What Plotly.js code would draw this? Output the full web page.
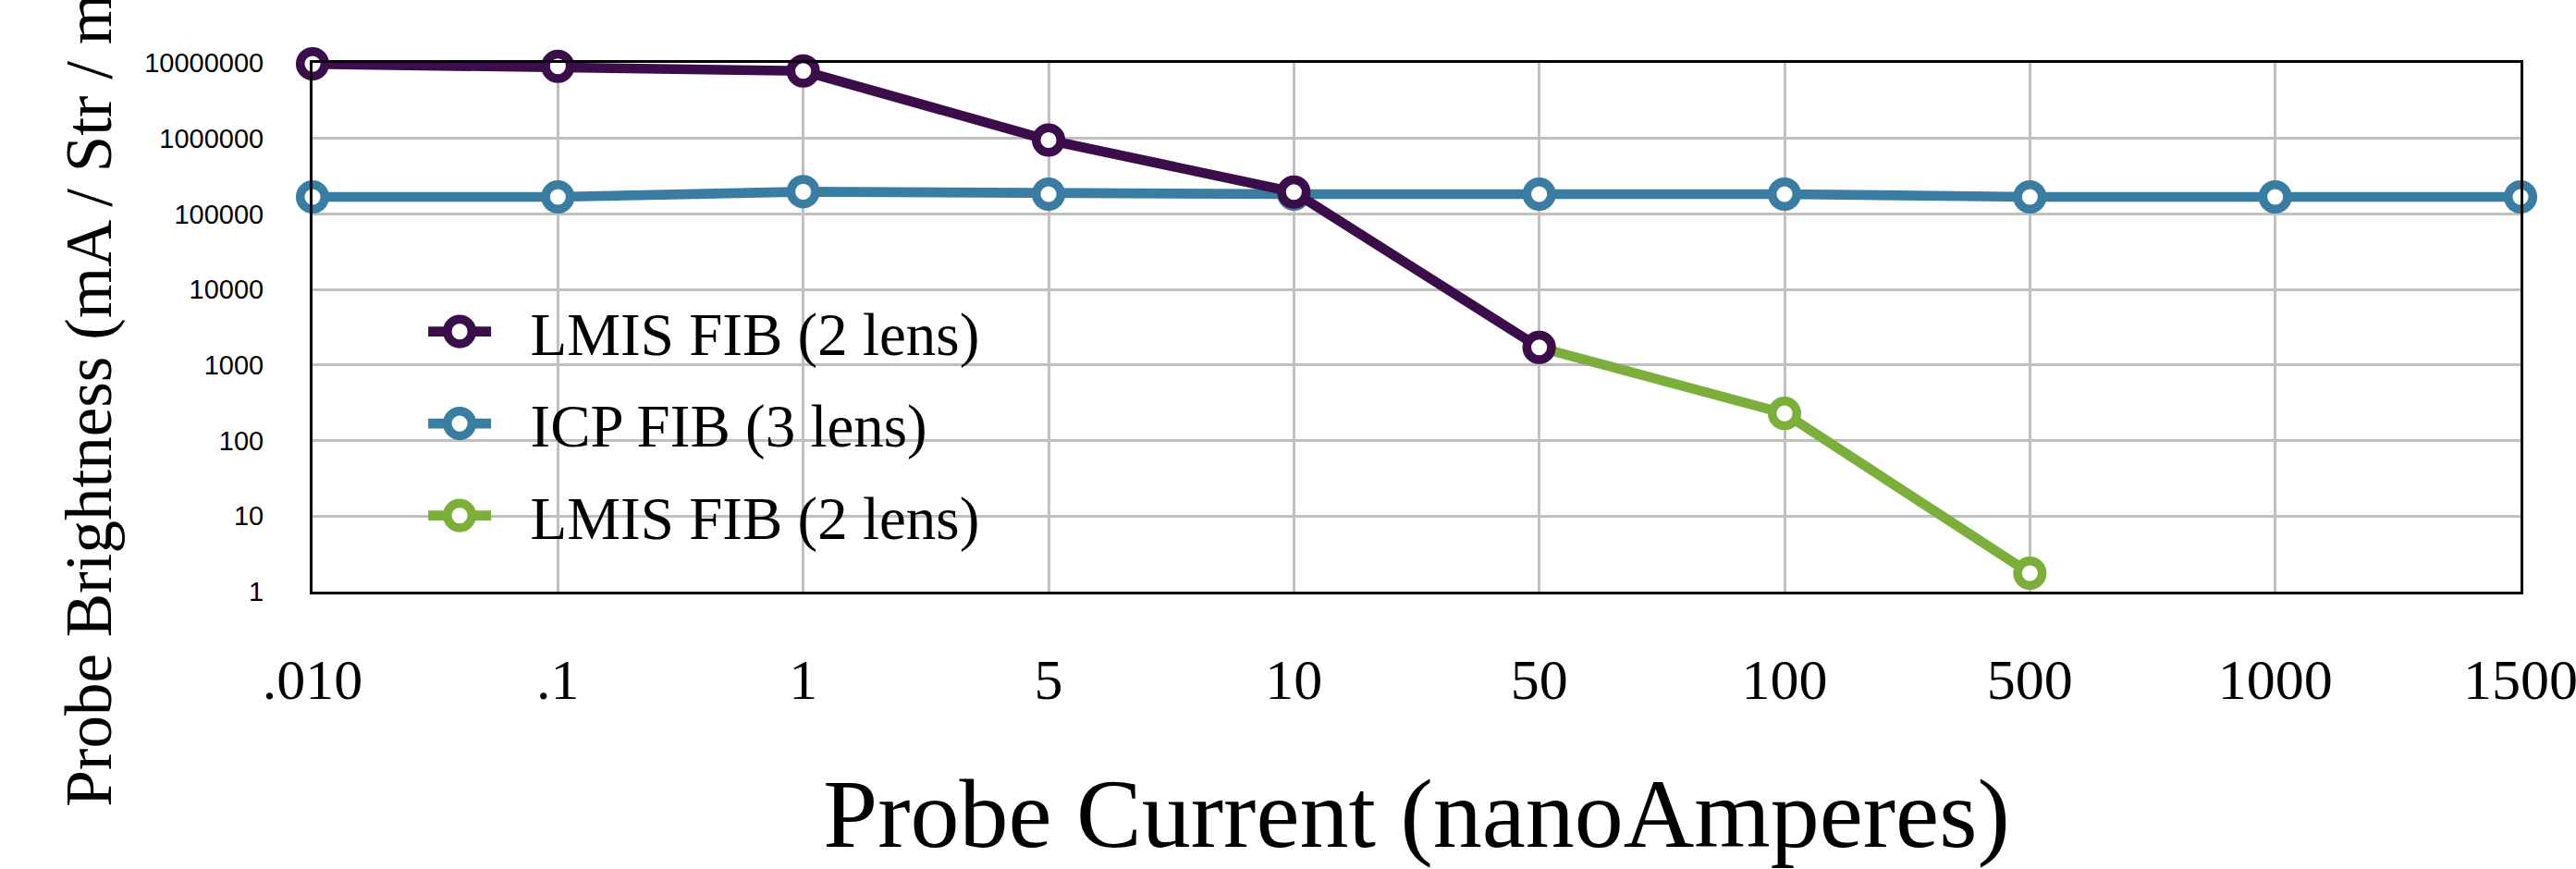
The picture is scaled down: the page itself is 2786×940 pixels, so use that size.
<!DOCTYPE html>
<html>
<head>
<meta charset="utf-8">
<script src="https://cdn.plot.ly/plotly-3.0.1.min.js"></script>
<style>
  html, body { margin: 0; padding: 0; background: #ffffff; width: 2786px; height: 940px; overflow: hidden; }
  #wrap { width: 2786px; height: 940px; position: relative; overflow: hidden; }
  #plot { width: 1393px; height: 470px; transform: scale(2); transform-origin: 0 0; position: absolute; left: 0; top: 0; }
</style>
</head>
<body>
<div id="wrap"><div id="plot"></div></div>
<script>
// Category labels of the x axis (probe current, nA)
const categories = [".010", ".1", "1", "5", "10", "50", "100", "500", "1000", "1500"];

// LMIS FIB (2 lens) - purple segment
const lmisX = [".010", ".1", "1", "5", "10", "50"];
const lmisY = [9700000, 9000000, 7800000, 950000, 195000, 1710];

// ICP FIB (3 lens) - blue
const icpX = categories;
const icpY = [168000, 168000, 197000, 183000, 183000, 183000, 183000, 168000, 168000, 168000];

// LMIS FIB (2 lens) - green extension
const lmis2X = ["50", "100", "500"];
const lmis2Y = [1710, 229, 1.76];

// Y tick labels
const yTickVals = [1, 10, 100, 1000, 10000, 100000, 1000000, 10000000];
const yTickText = ["1", "10", "100", "1000", "10000", "100000", "1000000", "10000000"];

const yTitle = "Probe Brightness (mA / Str / mm²)";
const xTitle = "Probe Current (nanoAmperes)";

const serif = "Liberation Serif, Times New Roman, serif";
const sans = "Liberation Sans, Arial, sans-serif";
const pad = "\u00A0\u00A0";

function series(name, x, y, color, group, rank) {
  return {
    type: "scatter",
    mode: "lines+markers",
    name: pad + name,
    legendgroup: group,
    legendrank: rank,
    x: x,
    y: y,
    line: { color: color, width: 5.3 },
    marker: { symbol: "circle", size: 13.3, color: "#ffffff", line: { color: color, width: 4.75 } },
    cliponaxis: false
  };
}

const data = [
  series("LMIS FIB (2 lens)", lmis2X, lmis2Y, "#7BAE3A", "c", 3),
  series("ICP FIB (3 lens)", icpX, icpY, "#397DA3", "b", 2),
  series("LMIS FIB (2 lens)", lmisX, lmisY, "#3C0D4B", "a", 1)
];

const layout = {
  width: 1393,
  height: 470,
  margin: { l: 169, r: 30, t: 34, b: 149.5 },
  paper_bgcolor: "#ffffff",
  plot_bgcolor: "#ffffff",
  showlegend: true,
  legend: {
    x: 0.0482,
    xanchor: "left",
    y: 0.3176,
    yanchor: "middle",
    traceorder: "grouped",
    tracegroupgap: 4.5,
    itemwidth: 34,
    bgcolor: "rgba(0,0,0,0)",
    font: { family: serif, size: 32.5, color: "#000000" }
  },
  xaxis: {
    type: "category",
    categoryorder: "array",
    categoryarray: categories,
    range: [0, 9],
    showgrid: true,
    gridcolor: "#c0c0c0",
    gridwidth: 1.5,
    showline: true,
    linecolor: "#000000",
    linewidth: 1.5,
    mirror: true,
    zeroline: false,
    ticks: "outside",
    ticklen: 19.5,
    tickwidth: 1,
    tickcolor: "rgba(0,0,0,0)",
    tickfont: { family: serif, size: 31, color: "#000000" },
    title: { text: xTitle, font: { family: serif, size: 53, color: "#000000" }, standoff: 37 }
  },
  yaxis: {
    type: "log",
    range: [0, 7],
    tickvals: yTickVals,
    ticktext: yTickText,
    showgrid: true,
    gridcolor: "#c0c0c0",
    gridwidth: 1.5,
    showline: true,
    linecolor: "#000000",
    linewidth: 1.5,
    mirror: true,
    zeroline: false,
    ticks: "",
    ticklabelstandoff: 22,
    tickfont: { family: sans, size: 14.5, color: "#000000" }
  },
  annotations: [
    {
      text: yTitle,
      textangle: -90,
      xref: "paper", yref: "paper",
      x: -0.1013, xanchor: "center",
      y: -0.4136, yanchor: "bottom",
      showarrow: false,
      font: { family: serif, size: 35.5, color: "#000000" }
    }
  ]
};

Plotly.newPlot("plot", data, layout, { staticPlot: true, displayModeBar: false });
</script>
</body>
</html>
